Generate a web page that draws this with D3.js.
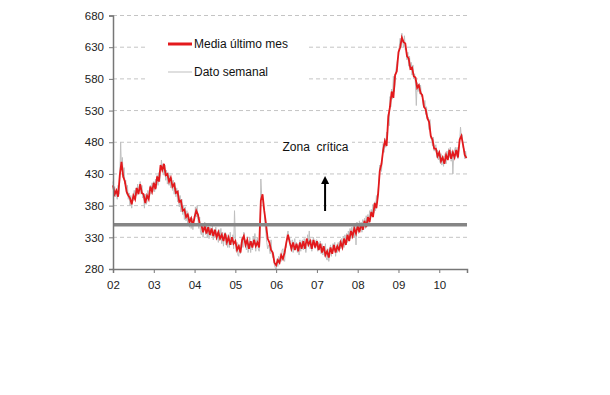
<!DOCTYPE html>
<html>
<head>
<meta charset="utf-8">
<script src="https://cdn.jsdelivr.net/npm/d3@7"></script>
<style>
  body { margin: 0; background: #fff; }
  svg { display: block; font-family: "Liberation Sans", Arial, sans-serif; }
  .axis text { font-size: 11.5px; fill: #222; }
  .axis path, .axis line { stroke: #777; }
  .label { font-size: 12px; fill: #111; }
</style>
</head>
<body>
<div id="chart"></div>
<script>
const width = 610, height = 395;
const margin = { top: 15.5, right: 143, bottom: 126, left: 113 };
const innerwidth = width - margin.left - margin.right;
const innerheight = height - margin.top - margin.bottom;

// año de inicio y fin de la serie
const startYear = 2002;
const endYear = 2010.68;
const yearTicks = [2002, 2003, 2004, 2005, 2006, 2007, 2008, 2009, 2010];
const yTicks = [280, 330, 380, 430, 480, 530, 580, 630, 680];
const criticalLevel = 350;

// Media último mes: dos valores por mes (ene 2002 - sep 2010)
const mediaMes = [
  412, 398, 404, 394, 428, 449, 426, 418, 402, 396, 392, 382, 396, 390, 408, 398, 414, 400, 398, 384, 396, 390, 410, 402,
  416, 406, 426, 418, 444, 436, 446, 428, 430, 418, 424, 410, 414, 400, 402, 386, 388, 372, 374, 362, 366, 354, 360, 348,
  362, 372, 366, 352, 350, 338, 348, 336, 346, 334, 344, 332, 342, 330, 338, 328, 334, 324, 336, 322, 330, 318, 330, 320,
  324, 310, 316, 306, 326, 332, 318, 326, 312, 324, 314, 326, 316, 322, 314, 388, 398, 372, 352, 328, 322, 310, 306, 290,
  286, 294, 290, 302, 296, 306, 322, 334, 322, 312, 322, 310, 320, 308, 322, 312, 324, 312, 328, 318, 324, 312, 326, 314,
  324, 310, 320, 306, 316, 302, 308, 298, 314, 304, 318, 306, 316, 310, 322, 314, 328, 318, 334, 324, 340, 332, 344, 336,
  348, 338, 352, 342, 356, 346, 362, 354, 370, 362, 384, 376, 398, 435, 446, 468, 482, 474, 520, 536, 560, 550, 586, 592,
  622, 630, 645, 638, 636, 616, 612, 596, 598, 584, 582, 566, 570, 558, 554, 536, 532, 518, 512, 490, 484, 470, 470, 458,
  464, 450, 456, 446, 460, 452, 468, 454, 464, 456, 468, 456, 484, 490, 476, 460, 455
];

// Dato semanal: cuatro valores por mes
const datoSemanal = [
  418, 400, 410, 394, 404, 390, 412, 398, 422, 480, 436, 456, 424, 440, 414, 420, 398, 412, 390, 400, 380, 396, 376, 392,
  388, 404, 390, 408, 396, 414, 400, 410, 418, 398, 412, 392, 396, 376, 398, 382, 386, 404, 390, 408, 412, 398, 416, 402,
  418, 402, 422, 408, 428, 412, 432, 418, 432, 452, 438, 446, 428, 444, 420, 436, 414, 432, 412, 428, 408, 424, 404, 420,
  398, 416, 394, 408, 386, 404, 378, 396, 370, 390, 366, 380, 358, 378, 356, 372, 350, 366, 346, 362, 344, 360, 342, 358,
  356, 378, 362, 380, 358, 344, 362, 338, 334, 352, 330, 348, 354, 334, 348, 330, 350, 328, 346, 332, 334, 348, 326, 342,
  330, 346, 326, 338, 322, 342, 326, 344, 320, 338, 316, 334, 338, 318, 334, 314, 332, 314, 338, 320, 318, 334, 312, 372,
  330, 308, 322, 302, 300, 318, 304, 322, 330, 314, 338, 322, 326, 310, 324, 306, 312, 330, 306, 324, 310, 332, 318, 336,
  308, 324, 330, 312, 308, 326, 422, 396, 394, 376, 374, 350, 336, 322, 312, 318, 312, 304, 326, 306, 298, 304, 286, 282,
  280, 296, 284, 300, 288, 304, 292, 310, 312, 296, 292, 316, 314, 334, 340, 326, 330, 314, 308, 326, 306, 322, 328, 310,
  322, 306, 318, 302, 326, 308, 322, 326, 310, 328, 314, 306, 316, 334, 320, 340, 312, 326, 308, 324, 330, 316, 312, 326,
  326, 308, 322, 310, 324, 304, 320, 302, 316, 300, 320, 298, 294, 312, 292, 310, 318, 300, 314, 320, 308, 322, 300, 316,
  306, 322, 310, 324, 312, 328, 316, 332, 314, 334, 318, 336, 322, 340, 326, 344, 328, 346, 332, 350, 330, 352, 318, 354,
  352, 336, 356, 340, 354, 338, 358, 342, 360, 344, 364, 348, 366, 352, 372, 360, 374, 362, 382, 368, 386, 372, 396, 384,
  404, 418, 444, 440, 434, 456, 478, 464, 486, 472, 496, 484, 524, 506, 552, 536, 564, 548, 584, 560, 572, 594, 604, 612,
  614, 632, 644, 630, 652, 638, 630, 648, 626, 628, 610, 622, 600, 616, 594, 606, 586, 602, 580, 588, 572, 538, 574, 560,
  572, 556, 570, 552, 556, 540, 534, 546, 524, 536, 516, 520, 500, 516, 486, 488, 474, 488, 466, 472, 476, 456, 468, 452,
  466, 448, 462, 444, 458, 442, 456, 462, 446, 466, 452, 470, 456, 472, 450, 466, 430, 462, 468, 472, 458, 472, 454, 468,
  482, 504, 488, 492, 472, 470, 454, 466, 455
];

const mediaData = mediaMes.map((v, i) => ({ t: startYear + i / 24, v }));
const semanalData = datoSemanal.map((v, i) => ({ t: startYear + i / 48, v }));

const svg = d3.select("#chart")
  .append("svg")
  .attr("width", width)
  .attr("height", height);

const innerChart = svg.append("g")
  .attr("transform", `translate(${margin.left},${margin.top})`);

const xScale = d3.scaleLinear()
  .domain([startYear, endYear])
  .range([0, innerwidth]);

const yScale = d3.scaleLinear()
  .domain([280, 680])
  .range([innerheight, 0]);

// rejilla discontinua
innerChart.append("g")
  .selectAll("line")
  .data(yTicks.slice(1))
  .join("line")
  .attr("x1", 0)
  .attr("x2", innerwidth)
  .attr("y1", d => yScale(d))
  .attr("y2", d => yScale(d))
  .attr("stroke", "#c4c4c4")
  .attr("stroke-width", 1)
  .attr("stroke-dasharray", "4,3");

// cajas blancas de leyenda y etiqueta
svg.append("rect")
  .attr("x", 148).attr("y", 28)
  .attr("width", 160).attr("height", 60)
  .attr("fill", "#fff");
svg.append("rect")
  .attr("x", 278).attr("y", 137)
  .attr("width", 74).attr("height", 17)
  .attr("fill", "#fff");

const line = d3.line()
  .x(d => xScale(d.t))
  .y(d => yScale(d.v));

innerChart.append("path")
  .datum(semanalData)
  .attr("fill", "none")
  .attr("stroke", "#bfbfbf")
  .attr("stroke-width", 1)
  .attr("d", line);

innerChart.append("path")
  .datum(mediaData)
  .attr("fill", "none")
  .attr("stroke", "#e3191c")
  .attr("stroke-width", 1.8)
  .attr("d", line);

// nivel crítico
innerChart.append("line")
  .attr("x1", 0)
  .attr("x2", innerwidth)
  .attr("y1", yScale(criticalLevel))
  .attr("y2", yScale(criticalLevel))
  .attr("stroke", "#858585")
  .attr("stroke-width", 3.5);

// ejes
const leftAxis = d3.axisLeft(yScale)
  .tickValues(yTicks)
  .tickSize(4)
  .tickPadding(5)
  .tickFormat(d3.format("d"));
innerChart.append("g")
  .attr("class", "axis")
  .call(leftAxis)
  .call(g => g.select(".domain").attr("stroke-width", 1.5));

const bottomAxis = d3.axisBottom(xScale)
  .tickValues(yearTicks)
  .tickSize(4)
  .tickPadding(8)
  .tickFormat(d => String(d).slice(2));
innerChart.append("g")
  .attr("class", "axis")
  .attr("transform", `translate(0,${innerheight})`)
  .call(bottomAxis)
  .call(g => g.select(".domain").attr("stroke-width", 1.5));

// flecha "Zona crítica"
svg.append("defs").append("marker")
  .attr("id", "arrow")
  .attr("viewBox", "0 0 10 10")
  .attr("refX", 5).attr("refY", 5)
  .attr("markerWidth", 4).attr("markerHeight", 4)
  .attr("orient", "auto")
  .append("path")
  .attr("d", "M0,0 L10,5 L0,10 Z")
  .attr("fill", "#000");

const arrowX = xScale(2007.2) + margin.left;
svg.append("line")
  .attr("x1", arrowX).attr("x2", arrowX)
  .attr("y1", 211).attr("y2", 180)
  .attr("stroke", "#000")
  .attr("stroke-width", 2)
  .attr("marker-end", "url(#arrow)");

svg.append("text")
  .attr("class", "label")
  .attr("x", 315.5)
  .attr("y", 151)
  .attr("text-anchor", "middle")
  .attr("xml:space", "preserve")
  .text("Zona  crítica");

// leyenda
const legendItems = [
  { name: "Media último mes", color: "#e3191c", w: 3 },
  { name: "Dato semanal", color: "#bfbfbf", w: 1 }
];
const legend = svg.append("g")
  .attr("transform", "translate(168, 44)");
legendItems.forEach((item, i) => {
  const g = legend.append("g")
    .attr("transform", `translate(0, ${i * 28})`);
  g.append("line")
    .attr("x1", 0).attr("x2", 24)
    .attr("stroke", item.color)
    .attr("stroke-width", item.w);
  g.append("text")
    .attr("class", "label")
    .attr("x", 26)
    .attr("y", 4)
    .text(item.name);
});
</script>
</body>
</html>
